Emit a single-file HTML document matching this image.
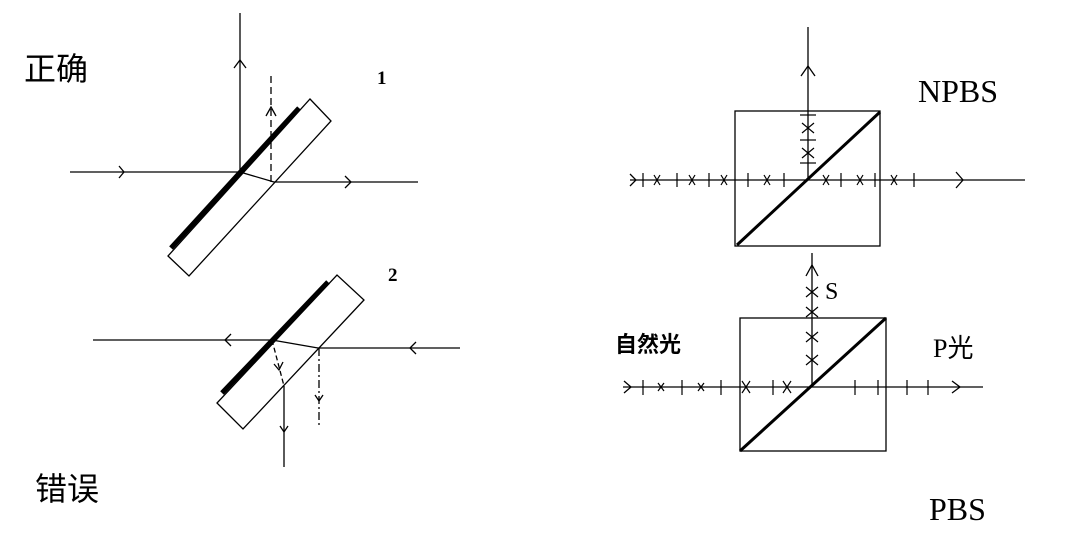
<!DOCTYPE html>
<html><head><meta charset="utf-8"><style>
html,body{margin:0;padding:0;background:#fff;}
svg{display:block;}
</style></head><body>
<svg width="1089" height="555" viewBox="0 0 1089 555" xmlns="http://www.w3.org/2000/svg">
<g stroke="#000" fill="none" stroke-width="1.3">
<!-- Diagram 1 -->
<line x1="240" y1="13" x2="240" y2="172"/>
<polyline points="234,68 240,60 246,68"/>
<line x1="70" y1="172" x2="240" y2="172"/>
<polyline points="119,166 124,172 119,178"/>
<polygon points="168,256 189,276 331,121 310,99"/>
<line x1="240" y1="172" x2="274" y2="182"/>
<line x1="274" y1="182" x2="418" y2="182"/>
<polyline points="345,176 351,182 345,188"/>
<line x1="271" y1="182" x2="271" y2="72" stroke-dasharray="7,4"/>
<polyline points="266,116 271,107 276,116"/>
<line x1="171" y1="248" x2="299" y2="108" stroke-width="5"/>
<!-- Diagram 2 -->
<line x1="93" y1="340" x2="272" y2="340"/>
<polyline points="231,334 225,340 231,346"/>
<polygon points="217,403 243,429 364,300 337,275"/>
<line x1="272" y1="340" x2="318" y2="348"/>
<line x1="318" y1="348" x2="460" y2="348"/>
<polyline points="416,342 410,348 416,354"/>
<line x1="272" y1="340" x2="284" y2="386" stroke-dasharray="5,3"/>
<polyline points="274,364 279,370 283,362"/>
<line x1="284" y1="386" x2="284" y2="467"/>
<polyline points="280,426 284,432 288,426"/>
<line x1="319" y1="348" x2="319" y2="426" stroke-dasharray="8,3,2,3"/>
<polyline points="315,395 319,401 323,395"/>
<line x1="222" y1="393" x2="328" y2="282" stroke-width="5"/>
<!-- NPBS -->
<rect x="735" y="111" width="145" height="135"/>
<line x1="808" y1="27" x2="808" y2="180"/>
<polyline points="801,76 808,66 815,76"/>
<line x1="630" y1="180" x2="1025" y2="180"/>
<polyline points="630,174 636,180 630,186"/>
<polyline points="956,172 963,180 956,188"/>
<line x1="737" y1="245" x2="880" y2="112" stroke-width="3"/>
<g stroke-width="1.2">
<line x1="643" y1="173" x2="643" y2="187"/>
<line x1="677" y1="173" x2="677" y2="187"/>
<line x1="709" y1="173" x2="709" y2="187"/>
<line x1="748" y1="173" x2="748" y2="187"/>
<line x1="784" y1="173" x2="784" y2="187"/>
<line x1="841" y1="173" x2="841" y2="187"/>
<line x1="875" y1="173" x2="875" y2="187"/>
<line x1="914" y1="173" x2="914" y2="187"/>
<path d="M654,175 l6,10 M660,175 l-6,10 M689,175 l6,10 M695,175 l-6,10 M721,175 l6,10 M727,175 l-6,10 M764,175 l6,10 M770,175 l-6,10 M823,175 l6,10 M829,175 l-6,10 M857,175 l6,10 M863,175 l-6,10 M891,175 l6,10 M897,175 l-6,10"/>
<line x1="800" y1="115" x2="816" y2="115"/>
<line x1="800" y1="140" x2="816" y2="140"/>
<line x1="800" y1="163" x2="816" y2="163"/>
<path d="M802,123 l12,10 M814,123 l-12,10 M802,148 l12,10 M814,148 l-12,10"/>
</g>
<!-- PBS -->
<rect x="740" y="318" width="146" height="133"/>
<line x1="812" y1="253" x2="812" y2="387"/>
<polyline points="806,276 812,265 818,276"/>
<line x1="623" y1="387" x2="983" y2="387"/>
<polyline points="624,381 631,387 624,393"/>
<polyline points="952,381 960,387 952,393"/>
<line x1="740" y1="451" x2="886" y2="318" stroke-width="3"/>
<g stroke-width="1.2">
<line x1="643" y1="380" x2="643" y2="395"/>
<line x1="682" y1="380" x2="682" y2="395"/>
<line x1="721" y1="380" x2="721" y2="395"/>
<line x1="773" y1="380" x2="773" y2="395"/>
<line x1="855" y1="380" x2="855" y2="395"/>
<line x1="878" y1="380" x2="878" y2="395"/>
<line x1="907" y1="380" x2="907" y2="395"/>
<line x1="928" y1="380" x2="928" y2="395"/>
<path d="M658,383 l6,8 M664,383 l-6,8 M698,383 l6,8 M704,383 l-6,8 M742,381 l8,12 M750,381 l-8,12 M783,381 l8,12 M791,381 l-8,12"/>
<path d="M806,287 l12,10 M818,287 l-12,10 M806,307 l12,10 M818,307 l-12,10 M806,332 l12,10 M818,332 l-12,10 M806,355 l12,10 M818,355 l-12,10"/>
</g>
</g>
<g fill="#000">
<text x="24" y="80" font-family="'Liberation Sans','Noto Sans CJK SC',sans-serif" font-size="32">正确</text>
<text x="35" y="500" font-family="'Liberation Sans','Noto Sans CJK SC',sans-serif" font-size="32">错误</text>
<text x="377" y="84" font-family="'Liberation Serif',serif" font-size="19" font-weight="bold">1</text>
<text x="388" y="281" font-family="'Liberation Serif',serif" font-size="19" font-weight="bold">2</text>
<text x="918" y="102" font-family="'Liberation Serif',serif" font-size="32">NPBS</text>
<text x="929" y="520" font-family="'Liberation Serif',serif" font-size="32">PBS</text>
<text x="825" y="299" font-family="'Liberation Serif',serif" font-size="24">S</text>
<text x="615" y="352" font-family="'Liberation Sans','Noto Sans CJK SC',sans-serif" font-size="22" font-weight="bold">自然光</text>
<text x="933" y="357" font-family="'Liberation Serif','Noto Sans CJK SC',serif" font-size="26">P光</text>
</g>
</svg>
</body></html>
